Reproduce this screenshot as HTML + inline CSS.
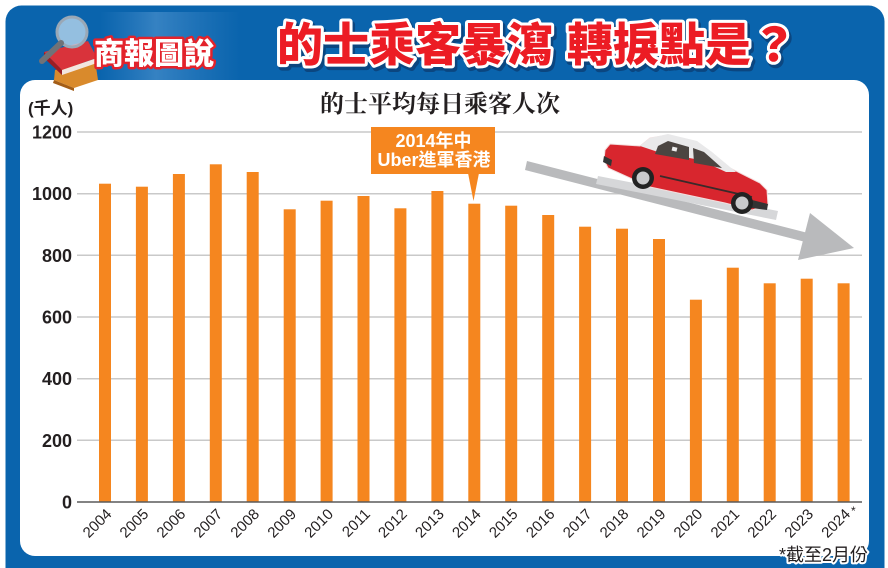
<!DOCTYPE html>
<html><head><meta charset="utf-8"><style>
html,body{margin:0;padding:0;background:#fff;}
svg{display:block;}
</style></head><body>
<svg width="888" height="568" viewBox="0 0 888 568" xmlns="http://www.w3.org/2000/svg">
<defs>
<linearGradient id="hg" x1="0" y1="0" x2="1" y2="0">
<stop offset="0" stop-color="#5a9ad6" stop-opacity="0"/>
<stop offset="0.4" stop-color="#6aa6dc" stop-opacity="0.45"/>
<stop offset="1" stop-color="#5a9ad6" stop-opacity="0"/>
</linearGradient>
</defs>
<rect x="0" y="0" width="888" height="568" fill="#fff"/>
<rect x="5.5" y="5.5" width="879" height="590" rx="16" fill="#0a64ad"/>
<rect x="100" y="12" width="140" height="68" fill="url(#hg)"/>
<rect x="20" y="80" width="849" height="476" rx="15" fill="#fff"/>

<!-- logo books -->
<polygon points="55,70 95,60 98,80 74,88 54,80" fill="#d98a2c"/>
<polygon points="54,80 74,88 74,91 53,83" fill="#a35d17"/>
<polygon points="44,52 88,41 97,58 62,70" fill="#d9333b"/>
<polygon points="44,52 62,70 62,75 44,58" fill="#9b1d24"/>
<polygon points="62,70 97,58 97,63 62,75" fill="#f2e6e0"/>
<circle cx="72" cy="32" r="15" fill="#cfe6f5" fill-opacity="0.7" stroke="#9aa8b6" stroke-width="3"/>
<line x1="61" y1="43" x2="42" y2="61" stroke="#6f7278" stroke-width="6" stroke-linecap="round"/>
<text x="94" y="64" font-family="Liberation Sans, 'Noto Sans CJK TC', sans-serif" font-weight="900" font-size="30" fill="#fff" stroke="#e3222b" stroke-width="5" paint-order="stroke" stroke-linejoin="round">商報圖說</text>

<!-- title -->
<g font-family="'Noto Sans CJK TC', 'Noto Sans CJK SC', sans-serif" font-weight="900" font-size="46">
<g transform="translate(2,3)" fill="#0c2a55" stroke="#0c2a55" stroke-width="7" stroke-linejoin="round" opacity="0.5">
<text x="277" y="61">的士乘客暴瀉</text><text x="567" y="61">轉捩點是？</text>
</g>
<g fill="#ec1c24" stroke="#fff" stroke-width="6" paint-order="stroke" stroke-linejoin="round">
<text x="277" y="61">的士乘客暴瀉</text><text x="567" y="61">轉捩點是？</text>
</g>
</g>

<!-- chart title -->
<text x="320" y="112" font-family="'Noto Serif CJK SC', serif" font-weight="700" font-size="24" fill="#231f20">的士平均每日乘客人次</text>
<text x="28" y="114" font-family="Liberation Sans, 'Noto Sans CJK TC', sans-serif" font-weight="700" font-size="17" fill="#231f20">(千人)</text>

<!-- grid -->
<g stroke="#c9c9c9" stroke-width="1.5">
<line x1="77" y1="132" x2="862" y2="132"/>
<line x1="77" y1="193.7" x2="862" y2="193.7"/>
<line x1="77" y1="255.3" x2="862" y2="255.3"/>
<line x1="77" y1="317" x2="862" y2="317"/>
<line x1="77" y1="378.7" x2="862" y2="378.7"/>
<line x1="77" y1="440.3" x2="862" y2="440.3"/>
</g>
<g font-family="Liberation Sans, sans-serif" font-weight="700" font-size="18" fill="#231f20" text-anchor="end">
<text x="72" y="138.5">1200</text>
<text x="72" y="200.2">1000</text>
<text x="72" y="261.8">800</text>
<text x="72" y="323.5">600</text>
<text x="72" y="385.2">400</text>
<text x="72" y="446.8">200</text>
<text x="72" y="508.5">0</text>
</g>

<!-- arrow + car -->
<polygon points="527,161 806,232.5 803.5,241.5 525,170" fill="#b9babc"/>
<polygon points="810,213 854,248 798,260" fill="#b9babc"/>
<polygon points="598,176 778,211 776,220 596,184" fill="#d6d7d9"/>
<polygon points="605,150 610,144 640,146 650,138 668,135 697,142 710,152 730,168 760,183 767,190 768,205 752,210 725,203 650,187 608,168 604,160" fill="#d8262e" stroke="#f3dede" stroke-width="1"/>
<polygon points="640,146 650,138 668,134 697,141 712,152 736,172 726,172 700,160 658,152" fill="#e9e9ea"/>
<polygon points="658,146 668,141 689,147 689,160 655,154" fill="#4b4541"/>
<polygon points="693,148 704,152 722,168 694,163" fill="#4b4541"/>
<polygon points="604,156 612,160 611,166 603,162" fill="#333"/>
<polygon points="752,200 768,204 767,210 752,208" fill="#333"/>
<line x1="660" y1="176" x2="752" y2="197" stroke="#3a2a2a" stroke-width="1.8"/>
<circle cx="643" cy="178" r="11" fill="#222"/><circle cx="643" cy="178" r="6.5" fill="#c9cacc"/>
<circle cx="742" cy="203" r="11" fill="#222"/><circle cx="742" cy="203" r="6.5" fill="#c9cacc"/>
<rect x="672" y="147" width="5" height="4" fill="#eee" transform="rotate(14 674 149)"/>

<!-- bars -->
<g fill="#f5861f">
<rect x="99" y="183.7" width="12" height="318.3"/>
<rect x="135.9" y="186.7" width="12" height="315.3"/>
<rect x="172.9" y="174" width="12" height="328"/>
<rect x="209.8" y="164.3" width="12" height="337.7"/>
<rect x="246.7" y="172" width="12" height="330"/>
<rect x="283.7" y="209.3" width="12" height="292.7"/>
<rect x="320.6" y="200.7" width="12" height="301.3"/>
<rect x="357.5" y="196" width="12" height="306"/>
<rect x="394.4" y="208.3" width="12" height="293.7"/>
<rect x="431.4" y="191" width="12" height="311"/>
<rect x="468.3" y="203.7" width="12" height="298.3"/>
<rect x="505.2" y="205.7" width="12" height="296.3"/>
<rect x="542.2" y="215" width="12" height="287"/>
<rect x="579.1" y="226.7" width="12" height="275.3"/>
<rect x="616" y="228.7" width="12" height="273.3"/>
<rect x="653" y="239" width="12" height="263"/>
<rect x="689.9" y="299.7" width="12" height="202.3"/>
<rect x="726.8" y="267.7" width="12" height="234.3"/>
<rect x="763.7" y="283.3" width="12" height="218.7"/>
<rect x="800.7" y="278.7" width="12" height="223.3"/>
<rect x="837.6" y="283.3" width="12" height="218.7"/>
</g>
<line x1="77" y1="502" x2="862" y2="502" stroke="#5a5a5a" stroke-width="1.6"/>

<!-- callout -->
<rect x="371" y="127" width="124" height="47" fill="#f5861f"/>
<polygon points="468,173 479,173 473.5,201" fill="#f5861f"/>
<g font-family="Liberation Sans, 'Noto Sans CJK TC', sans-serif" font-weight="700" font-size="18" fill="#fff" text-anchor="middle">
<text x="433.5" y="147">2014年中</text>
<text x="434" y="166">Uber進軍香港</text>
</g>

<!-- x labels -->
<g font-family="Liberation Sans, sans-serif" font-size="15" fill="#231f20" text-anchor="end">
<text transform="translate(112.5,515) rotate(-45)">2004</text>
<text transform="translate(149.4,515) rotate(-45)">2005</text>
<text transform="translate(186.4,515) rotate(-45)">2006</text>
<text transform="translate(223.3,515) rotate(-45)">2007</text>
<text transform="translate(260.2,515) rotate(-45)">2008</text>
<text transform="translate(297.2,515) rotate(-45)">2009</text>
<text transform="translate(334.1,515) rotate(-45)">2010</text>
<text transform="translate(371,515) rotate(-45)">2011</text>
<text transform="translate(407.9,515) rotate(-45)">2012</text>
<text transform="translate(444.9,515) rotate(-45)">2013</text>
<text transform="translate(481.8,515) rotate(-45)">2014</text>
<text transform="translate(518.7,515) rotate(-45)">2015</text>
<text transform="translate(555.7,515) rotate(-45)">2016</text>
<text transform="translate(592.6,515) rotate(-45)">2017</text>
<text transform="translate(629.5,515) rotate(-45)">2018</text>
<text transform="translate(666.5,515) rotate(-45)">2019</text>
<text transform="translate(703.4,515) rotate(-45)">2020</text>
<text transform="translate(740.3,515) rotate(-45)">2021</text>
<text transform="translate(777.2,515) rotate(-45)">2022</text>
<text transform="translate(814.2,515) rotate(-45)">2023</text>
<text transform="translate(851.1,515) rotate(-45)">2024</text>
</g>
<text x="851" y="515" font-family="Liberation Sans, sans-serif" font-size="12" fill="#231f20">*</text>

<!-- footnote -->
<text x="868" y="561" text-anchor="end" font-family="Liberation Sans, 'Noto Sans CJK TC', sans-serif" font-size="18" fill="#231f20" stroke="#fff" stroke-width="4" paint-order="stroke" stroke-linejoin="round">*截至2月份</text>
</svg>
</body></html>
